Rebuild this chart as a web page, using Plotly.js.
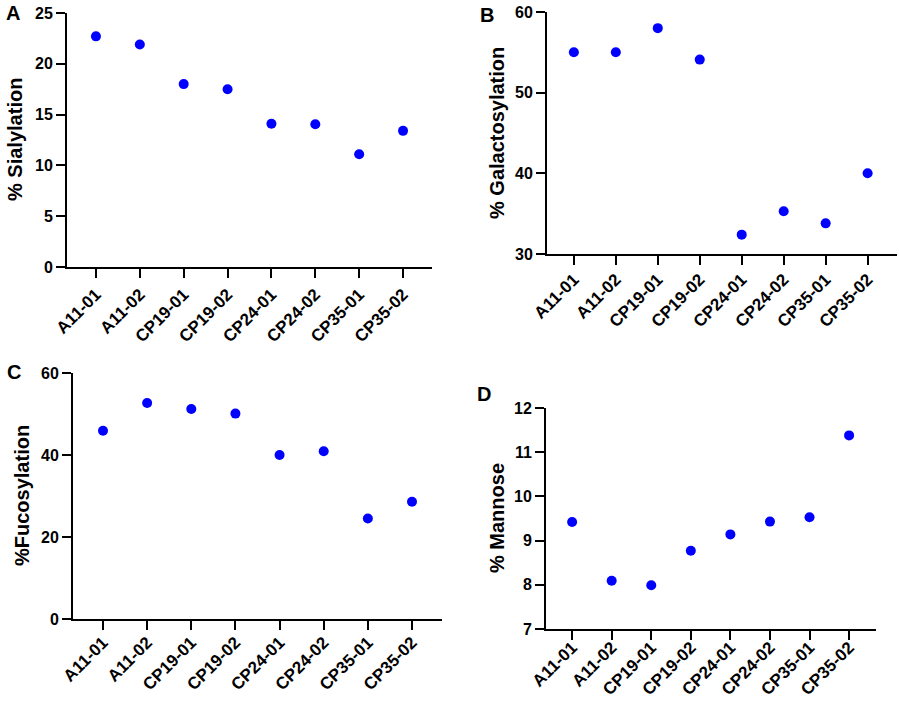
<!DOCTYPE html>
<html>
<head>
<meta charset="utf-8">
<script src="https://cdn.plot.ly/plotly-3.0.1.min.js"></script>
<style>
  html, body { margin: 0; padding: 0; background: #fff; }
  #myDiv { width: 899px; height: 701px; }
</style>
</head>
<body>
<div id="myDiv"></div>
<script>
// sample names, same on every panel
var samples = ['A11-01', 'A11-02', 'CP19-01', 'CP19-02', 'CP24-01', 'CP24-02', 'CP35-01', 'CP35-02'];

// values
var sialylation    = [22.7, 21.9, 18.0, 17.5, 14.1, 14.05, 11.1, 13.4];
var galactosylation = [55.0, 55.0, 58.0, 54.1, 32.4, 35.3, 33.8, 40.0];
var fucosylation   = [45.9, 52.7, 51.2, 50.1, 40.0, 40.9, 24.5, 28.6];
var mannose        = [9.42, 8.09, 7.99, 8.77, 9.14, 9.43, 9.53, 11.38];

var W = 899, H = 701;
var px = function (x) { return x / W; };
var py = function (y) { return 1 - y / H; };

var fnt = "'Liberation Sans', Arial, sans-serif";

function dots(y, n) {
    return {
        x: samples,
        y: y,
        xaxis: 'x' + n,
        yaxis: 'y' + n,
        mode: 'markers',
        type: 'scatter',
        marker: {color: '#0000FF', size: 10},
        hoverinfo: 'x+y',
        showlegend: false
    };
}

var data = [
    dots(sialylation, ''),
    dots(galactosylation, 2),
    dots(fucosylation, 3),
    dots(mannose, 4)
];

function xax(l, r, rng, anchor, standoff) {
    return {
        domain: [px(l), px(r)],
        anchor: anchor,
        type: 'category',
        range: rng,
        showgrid: false,
        zeroline: false,
        showline: true,
        linecolor: '#000',
        linewidth: 2,
        ticks: 'outside',
        ticklen: 9,
        tickwidth: 2,
        tickcolor: '#000',
        tickangle: -45,
        ticklabelstandoff: standoff,
        tickfont: {family: fnt, size: 17, color: '#000', weight: 700},
        fixedrange: true
    };
}

function yax(top, bot, rng, dtick, anchor) {
    return {
        domain: [py(bot), py(top)],
        anchor: anchor,
        range: rng,
        dtick: dtick,
        tick0: rng[0],
        showgrid: false,
        zeroline: false,
        showline: true,
        linecolor: '#000',
        linewidth: 2,
        ticks: 'outside',
        ticklen: 9,
        tickwidth: 2,
        tickcolor: '#000',
        tickfont: {family: fnt, size: 16, color: '#000', weight: 700},
        fixedrange: true
    };
}

function label(txt, x, y, size, angle) {
    return {
        text: txt,
        xref: 'paper', yref: 'paper',
        x: px(x), y: py(y),
        xanchor: 'center', yanchor: 'middle',
        showarrow: false,
        textangle: angle || 0,
        font: {family: fnt, size: size, color: '#000', weight: 700}
    };
}

var layout = {
    width: W,
    height: H,
    margin: {l: 0, r: 0, t: 0, b: 0},
    paper_bgcolor: '#fff',
    plot_bgcolor: '#fff',
    xaxis:  xax(67, 432, [-0.66, 7.66], 'y', 0),
    yaxis:  yax(13, 267, [0, 25], 5, 'x'),
    xaxis2: xax(547, 897, [-0.64, 7.70], 'y2', -2),
    yaxis2: yax(12, 254, [30, 60], 10, 'x2'),
    xaxis3: xax(73, 442, [-0.68, 7.68], 'y3', -4),
    yaxis3: yax(373, 619, [0, 60], 20, 'x3'),
    xaxis4: xax(546, 876, [-0.66, 7.68], 'y4', -9),
    yaxis4: yax(408, 629, [7, 12], 1, 'x4'),
    annotations: [
        label('A', 13, 13, 20),
        label('B', 487, 15, 20),
        label('C', 14, 372, 20),
        label('D', 484, 394, 20),
        label('% Sialylation', 15, 140, 20, -90),
        label('% Galactosylation', 497, 133, 20, -90),
        label('%Fucosylation', 22, 496, 20, -90),
        label('% Mannose', 497, 518, 20, -90)
    ]
};

Plotly.newPlot('myDiv', data, layout, {displayModeBar: false, staticPlot: true});
</script>
</body>
</html>
